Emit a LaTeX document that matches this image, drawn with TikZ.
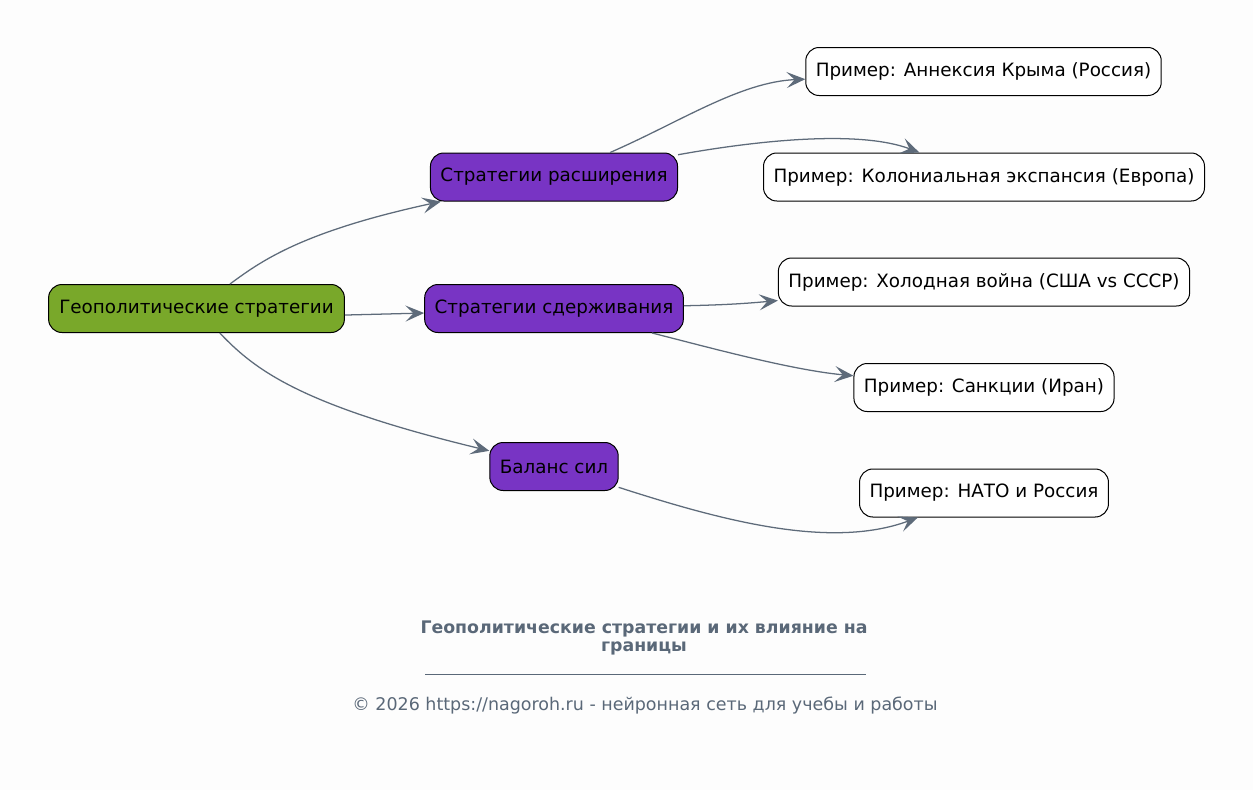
\documentclass[tikz,border=0pt]{standalone}
\usepackage{fontspec}
\setmainfont{DejaVu Sans}
\usetikzlibrary{arrows.meta}
\definecolor{bgcol}{HTML}{FDFDFD}
\definecolor{rootgreen}{HTML}{79A82A}
\definecolor{stratpurple}{HTML}{7834C4}
\definecolor{edgegray}{HTML}{5E6B7A}
\definecolor{titlegray}{HTML}{5A6878}
\tikzset{
  rootbox/.style={draw=black, line width=0.75pt, fill=rootgreen, rounded corners=10pt, minimum height=36pt, inner xsep=8pt, font=\fontsize{13.75}{16}\selectfont},
  stratbox/.style={draw=black, line width=0.75pt, fill=stratpurple, rounded corners=10pt, minimum height=36pt, inner xsep=7.5pt, font=\fontsize{13.75}{16}\selectfont},
  examplebox/.style={draw=black, line width=0.75pt, fill=white, rounded corners=10pt, minimum height=36pt, inner xsep=7.5pt, font=\fontsize{13.75}{16}\selectfont},
  link/.style={draw=edgegray, line width=0.95pt, -{Stealth[length=14pt, width=12pt, inset=6pt]}}
}
\begin{document}
\begin{tikzpicture}[x=0.75pt,y=0.75pt,yscale=-1,xscale=1]
%set diagram size
\fill[bgcol] (0,0) rectangle (1253,790);
\useasboundingbox (0,0) rectangle (1253,790);

%Root node
\node[rootbox] (geo) at (196.5,308.5) {Геополитические стратегии};
%Strategy nodes
\node[stratbox] (expand) at (554,177) {Стратегии расширения};
\node[stratbox] (deter) at (554,308.5) {Стратегии сдерживания};
\node[stratbox] (balance) at (554,466.5) {Баланс сил};
%Example nodes
\node[examplebox] (crimea) at (983.5,71.5) {Пример: Аннексия Крыма (Россия)};
\node[examplebox] (colonial) at (984,177) {Пример: Колониальная экспансия (Европа)};
\node[examplebox] (coldwar) at (984,282) {Пример: Холодная война (США vs СССР)};
\node[examplebox] (sanctions) at (984,387.5) {Пример: Санкции (Иран)};
\node[examplebox] (nato) at (984,493) {Пример: НАТО и Россия};

%Curve Lines from root
\draw[link] (geo) .. controls (260,262) and (300,232) .. (expand);
\draw[link] ([yshift=4.9pt]geo.east) -- ([yshift=3.4pt]deter.west);
\draw[link] (geo) .. controls (255,370) and (300,405) .. (balance);
%Curve Lines to examples
\draw[link] (expand) .. controls (680,122) and (740,82) .. (crimea);
\draw[link] (expand) .. controls (760,140) and (860,130) .. (colonial);
\draw[link] (deter) .. controls (720,305) and (740,304) .. (coldwar);
\draw[link] (deter) .. controls (700,345) and (790,370) .. (sanctions);
\draw[link] (balance) .. controls (720,520) and (830,550) .. (nato);

%Title and footer
\node[font=\bfseries\fontsize{13}{13}\selectfont, text=titlegray, align=center] (title) at (644,638) {Геополитические стратегии и их влияние на\\границы};
\draw[titlegray, line width=0.6pt] (425,674) -- (866,674);
\node[font=\fontsize{13.1}{14}\selectfont, text=titlegray] (footer) at (645,706) {© 2026 https://nagoroh.ru - нейронная сеть для учебы и работы};

\end{tikzpicture}
\end{document}
